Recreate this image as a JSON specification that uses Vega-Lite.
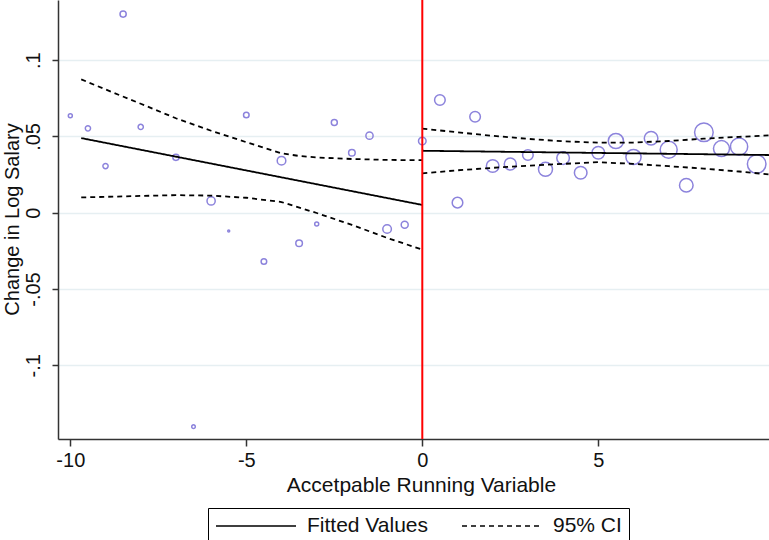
{
  "$schema": "https://vega.github.io/schema/vega-lite/v6.json",
  "width": 711,
  "height": 439,
  "autosize": {"type": "none"},
  "padding": {"left": 58, "top": 0, "right": 0, "bottom": 101},
  "background": "white",
  "config": {
    "view": {"stroke": null},
    "font": "Liberation Sans",
    "axis": {
      "domainColor": "#333333",
      "domainWidth": 1.5,
      "tickColor": "#333333",
      "tickWidth": 1.5,
      "labelFont": "Liberation Sans",
      "labelFontSize": 20,
      "labelColor": "#111111",
      "titleFont": "Liberation Sans",
      "titleFontSize": 21,
      "titleFontWeight": "normal",
      "titleColor": "#111111"
    }
  },
  "datasets": {
    "bins": [
      {"x": -10, "y": 0.0636, "n": 40},
      {"x": -9.5, "y": 0.0553, "n": 68},
      {"x": -9, "y": 0.0306, "n": 68},
      {"x": -8.5, "y": 0.1302, "n": 96},
      {"x": -8, "y": 0.0562, "n": 68},
      {"x": -7, "y": 0.0363, "n": 96},
      {"x": -6.5, "y": -0.1402, "n": 32},
      {"x": -6, "y": 0.0077, "n": 168},
      {"x": -5.5, "y": -0.012, "n": 10},
      {"x": -5, "y": 0.064, "n": 78},
      {"x": -4.5, "y": -0.032, "n": 78},
      {"x": -4, "y": 0.0341, "n": 185},
      {"x": -3.5, "y": -0.02, "n": 109},
      {"x": -3, "y": -0.0074, "n": 40},
      {"x": -2.5, "y": 0.0592, "n": 90},
      {"x": -2, "y": 0.0393, "n": 109},
      {"x": -1.5, "y": 0.0505, "n": 130},
      {"x": -1, "y": -0.0107, "n": 185},
      {"x": -0.5, "y": -0.0079, "n": 122},
      {"x": 0, "y": 0.047, "n": 144},
      {"x": 0.5, "y": 0.0739, "n": 281},
      {"x": 1, "y": 0.0066, "n": 281},
      {"x": 1.5, "y": 0.0629, "n": 281},
      {"x": 2, "y": 0.0306, "n": 397},
      {"x": 2.5, "y": 0.0319, "n": 360},
      {"x": 3, "y": 0.0378, "n": 281},
      {"x": 3.5, "y": 0.0284, "n": 490},
      {"x": 4, "y": 0.0358, "n": 397},
      {"x": 4.5, "y": 0.0262, "n": 397},
      {"x": 5, "y": 0.0393, "n": 397},
      {"x": 5.5, "y": 0.047, "n": 578},
      {"x": 6, "y": 0.0365, "n": 578},
      {"x": 6.5, "y": 0.0488, "n": 462},
      {"x": 7, "y": 0.0413, "n": 722},
      {"x": 7.5, "y": 0.018, "n": 462},
      {"x": 8, "y": 0.0527, "n": 865},
      {"x": 8.5, "y": 0.042, "n": 640},
      {"x": 9, "y": 0.0433, "n": 740},
      {"x": 9.5, "y": 0.0319, "n": 865}
    ],
    "fits": [
      {"x": -9.69, "y": 0.0489, "series": "Fitted Values", "seg": "fitL"},
      {"x": 0, "y": 0.0051, "series": "Fitted Values", "seg": "fitL"},
      {"x": 0, "y": 0.0406, "series": "Fitted Values", "seg": "fitR"},
      {"x": 9.85, "y": 0.0378, "series": "Fitted Values", "seg": "fitR"},
      {"x": -9.69, "y": 0.0874, "series": "95% CI", "seg": "ubL"},
      {"x": -9, "y": 0.0808, "series": "95% CI", "seg": "ubL"},
      {"x": -8, "y": 0.0714, "series": "95% CI", "seg": "ubL"},
      {"x": -7, "y": 0.0619, "series": "95% CI", "seg": "ubL"},
      {"x": -6, "y": 0.0537, "series": "95% CI", "seg": "ubL"},
      {"x": -5, "y": 0.0462, "series": "95% CI", "seg": "ubL"},
      {"x": -4, "y": 0.0389, "series": "95% CI", "seg": "ubL"},
      {"x": -3.5, "y": 0.0372, "series": "95% CI", "seg": "ubL"},
      {"x": -3, "y": 0.0362, "series": "95% CI", "seg": "ubL"},
      {"x": -2, "y": 0.0352, "series": "95% CI", "seg": "ubL"},
      {"x": -1, "y": 0.0346, "series": "95% CI", "seg": "ubL"},
      {"x": 0, "y": 0.0344, "series": "95% CI", "seg": "ubL"},
      {"x": -9.69, "y": 0.01, "series": "95% CI", "seg": "lbL"},
      {"x": -8, "y": 0.011, "series": "95% CI", "seg": "lbL"},
      {"x": -7, "y": 0.0115, "series": "95% CI", "seg": "lbL"},
      {"x": -6, "y": 0.0112, "series": "95% CI", "seg": "lbL"},
      {"x": -5, "y": 0.0098, "series": "95% CI", "seg": "lbL"},
      {"x": -4, "y": 0.007, "series": "95% CI", "seg": "lbL"},
      {"x": -3, "y": -0.0002, "series": "95% CI", "seg": "lbL"},
      {"x": -2, "y": -0.008, "series": "95% CI", "seg": "lbL"},
      {"x": -1, "y": -0.0165, "series": "95% CI", "seg": "lbL"},
      {"x": 0, "y": -0.0242, "series": "95% CI", "seg": "lbL"},
      {"x": 0, "y": 0.0551, "series": "95% CI", "seg": "ubR"},
      {"x": 1, "y": 0.0527, "series": "95% CI", "seg": "ubR"},
      {"x": 2, "y": 0.0504, "series": "95% CI", "seg": "ubR"},
      {"x": 3, "y": 0.0484, "series": "95% CI", "seg": "ubR"},
      {"x": 4, "y": 0.0468, "series": "95% CI", "seg": "ubR"},
      {"x": 5, "y": 0.0459, "series": "95% CI", "seg": "ubR"},
      {"x": 6, "y": 0.046, "series": "95% CI", "seg": "ubR"},
      {"x": 7, "y": 0.047, "series": "95% CI", "seg": "ubR"},
      {"x": 8, "y": 0.0485, "series": "95% CI", "seg": "ubR"},
      {"x": 9, "y": 0.0497, "series": "95% CI", "seg": "ubR"},
      {"x": 9.85, "y": 0.0507, "series": "95% CI", "seg": "ubR"},
      {"x": 0, "y": 0.0258, "series": "95% CI", "seg": "lbR"},
      {"x": 1, "y": 0.0278, "series": "95% CI", "seg": "lbR"},
      {"x": 2, "y": 0.0294, "series": "95% CI", "seg": "lbR"},
      {"x": 3, "y": 0.0308, "series": "95% CI", "seg": "lbR"},
      {"x": 4, "y": 0.032, "series": "95% CI", "seg": "lbR"},
      {"x": 5, "y": 0.0331, "series": "95% CI", "seg": "lbR"},
      {"x": 6, "y": 0.032, "series": "95% CI", "seg": "lbR"},
      {"x": 7, "y": 0.0305, "series": "95% CI", "seg": "lbR"},
      {"x": 8, "y": 0.0289, "series": "95% CI", "seg": "lbR"},
      {"x": 9, "y": 0.027, "series": "95% CI", "seg": "lbR"},
      {"x": 9.85, "y": 0.0251, "series": "95% CI", "seg": "lbR"}
    ],
    "cutoff": [{"x": 0}]
  },
  "layer": [
    {
      "data": {"name": "bins"},
      "mark": {"type": "point", "shape": "circle", "filled": false, "stroke": "#8c83dc", "strokeWidth": 1.5, "opacity": 1},
      "encoding": {
        "x": {
          "field": "x", "type": "quantitative",
          "scale": {"domain": [-10.35, 9.85], "nice": false, "zero": false},
          "axis": {
            "values": [-10, -5, 0, 5, 10],
            "grid": false,
            "tickSize": 7,
            "labelPadding": 4,
            "labelFlush": false,
            "labelExpr": "'' + datum.value",
            "title": "Accetpable Running Variable",
            "titleX": 363,
            "titleY": 46,
            "titleBaseline": "middle",
            "titleAlign": "center"
          }
        },
        "y": {
          "field": "y", "type": "quantitative",
          "scale": {"domain": [-0.1483, 0.1394], "nice": false, "zero": false},
          "axis": {
            "values": [-0.1, -0.05, 0, 0.05, 0.1],
            "grid": true,
            "gridColor": "#e6eff2",
            "gridWidth": 1.5,
            "tickSize": 6,
            "labelAngle": -90,
            "labelAlign": "center",
            "labelBaseline": "bottom",
            "labelPadding": 9,
            "labelExpr": "datum.value == 0 ? '0' : (datum.value < 0 ? '-' : '') + slice(format(abs(datum.value), '~g'), 1)",
            "title": "Change in Log Salary",
            "titleFontSize": 20,
            "titleAngle": -90,
            "titleX": -46,
            "titleY": 219,
            "titleBaseline": "middle",
            "titleAlign": "center"
          }
        },
        "size": {"field": "n", "type": "quantitative", "scale": {"type": "linear", "domain": [0, 1000], "range": [0, 400]}, "legend": null}
      }
    },
    {
      "data": {"name": "fits"},
      "mark": {"type": "line", "color": "black", "strokeWidth": 1.8},
      "encoding": {
        "x": {"field": "x", "type": "quantitative"},
        "y": {"field": "y", "type": "quantitative"},
        "detail": {"field": "seg"},
        "strokeDash": {
          "field": "series", "type": "nominal",
          "scale": {"domain": ["Fitted Values", "95% CI"], "range": [[1, 0], [5, 4]]},
          "legend": {
            "title": null,
            "orient": "none",
            "legendX": 150,
            "legendY": 508,
            "direction": "horizontal",
            "strokeColor": "black",
            "fillColor": "white",
            "padding": 7,
            "labelFont": "Liberation Sans",
            "labelFontSize": 21,
            "labelColor": "#111111",
            "symbolType": "M-1,0H7",
            "symbolSize": 400,
            "symbolStrokeWidth": 1.5,
            "symbolStrokeColor": "black",
            "labelOffset": 70,
            "columnPadding": 30,
            "cornerRadius": 0
          }
        }
      }
    },
    {
      "data": {"name": "cutoff"},
      "mark": {"type": "rule", "color": "#ff0000", "strokeWidth": 2},
      "encoding": {"x": {"field": "x", "type": "quantitative"}}
    }
  ]
}
